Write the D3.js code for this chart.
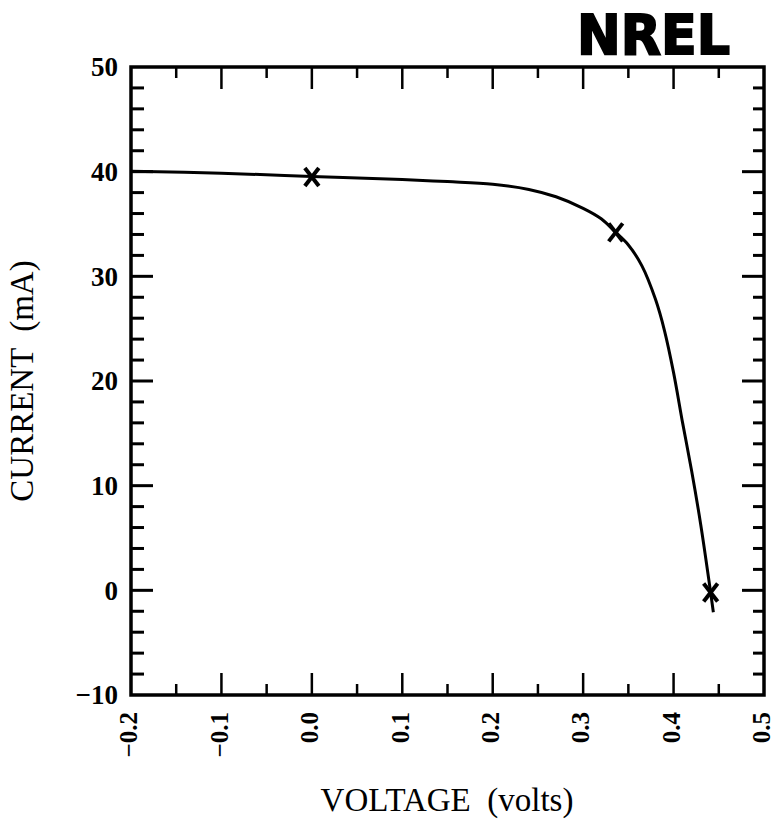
<!DOCTYPE html>
<html><head><meta charset="utf-8">
<script src="https://cdn.jsdelivr.net/npm/d3@7"></script>
<style>body{margin:0;background:#fff}svg{display:block}</style>
</head><body>
<svg id="c" width="777" height="825"></svg>
<script>
// Data
const curveV = [-0.2, -0.1, 0.0, 0.1, 0.15, 0.2, 0.24, 0.27, 0.30, 0.32, 0.336, 0.35, 0.365, 0.38, 0.39, 0.40, 0.41, 0.42, 0.43, 0.44, 0.444];
const curveI = [40.05, 39.85, 39.55, 39.25, 39.05, 38.8, 38.3, 37.6, 36.5, 35.5, 34.2, 33.0, 31.0, 27.8, 24.8, 20.8, 16.0, 11.4, 6.3, 0.4, -2.1];
const markV = [0.0, 0.336, 0.441];
const markI = [39.5, 34.2, -0.2];
const xTicks = [-0.2, -0.1, 0.0, 0.1, 0.2, 0.3, 0.4, 0.5];
const xTickLabels = ["\u22120.2", "\u22120.1", "0.0", "0.1", "0.2", "0.3", "0.4", "0.5"];
const yTicks = [-10, 0, 10, 20, 30, 40, 50];
const yTickLabels = ["\u221210", "0", "10", "20", "30", "40", "50"];

const L = 131, R = 764, T = 67, B = 695;
const svg = d3.select("#c");
const x = d3.scaleLinear().domain([-0.2, 0.5]).range([L, R]);
const y = d3.scaleLinear().domain([-10, 50]).range([B, T]);
const serif = "'Liberation Serif','DejaVu Serif',serif";

// minor/major ticks
const xMinor = d3.range(-0.15, 0.5, 0.1);
const yMinor = d3.range(-10, 50.01, 2).filter(v => Math.abs(v % 10) > 0.01);
const g = svg.append("g").attr("stroke", "#000").attr("fill", "none");
const MAJ = 22, MIN = 11;
xTicks.slice(1, -1).forEach(v => {
  g.append("line").attr("x1", x(v)).attr("x2", x(v)).attr("y1", B).attr("y2", B - MAJ).attr("stroke-width", 2.5);
  g.append("line").attr("x1", x(v)).attr("x2", x(v)).attr("y1", T).attr("y2", T + MAJ).attr("stroke-width", 2.5);
});
xMinor.forEach(v => {
  g.append("line").attr("x1", x(v)).attr("x2", x(v)).attr("y1", B).attr("y2", B - MIN).attr("stroke-width", 2.5);
  g.append("line").attr("x1", x(v)).attr("x2", x(v)).attr("y1", T).attr("y2", T + MIN).attr("stroke-width", 2.5);
});
yTicks.slice(1, -1).forEach(v => {
  g.append("line").attr("x1", L).attr("x2", L + MAJ).attr("y1", y(v)).attr("y2", y(v)).attr("stroke-width", 3);
  g.append("line").attr("x1", R).attr("x2", R - MAJ).attr("y1", y(v)).attr("y2", y(v)).attr("stroke-width", 3);
});
yMinor.forEach(v => {
  g.append("line").attr("x1", L).attr("x2", L + 13).attr("y1", y(v)).attr("y2", y(v)).attr("stroke-width", 3);
  g.append("line").attr("x1", R).attr("x2", R - 11).attr("y1", y(v)).attr("y2", y(v)).attr("stroke-width", 3);
});
// frame
svg.append("rect").attr("x", L).attr("y", T).attr("width", R - L).attr("height", B - T)
  .attr("fill", "none").attr("stroke", "#000").attr("stroke-width", 3.5);

// tick labels
svg.append("g").selectAll("text").data(yTicks).join("text")
  .attr("x", 118).attr("y", d => y(d)).attr("dy", "0.35em")
  .attr("text-anchor", "end").attr("font-family", serif).attr("font-weight", "bold")
  .attr("font-size", 27).text((d, i) => yTickLabels[i]);
svg.append("g").selectAll("text").data(xTicks).join("text")
  .attr("transform", d => `translate(${x(d)},712) rotate(-90)`).attr("dy", "0.25em")
  .attr("text-anchor", "end").attr("font-family", serif).attr("font-weight", "bold")
  .attr("font-size", 25).text((d, i) => xTickLabels[i]);

// axis titles
svg.append("text").attr("x", 447).attr("y", 811).attr("text-anchor", "middle")
  .attr("font-family", serif).attr("font-size", 33).attr("xml:space", "preserve").text("VOLTAGE  (volts)");
svg.append("text").attr("transform", "translate(33,381) rotate(-90)").attr("text-anchor", "middle")
  .attr("font-family", serif).attr("font-size", 33).attr("xml:space", "preserve").text("CURRENT  (mA)");

// curve
const pts = curveV.map((v, i) => [v, curveI[i]]);
svg.append("path").datum(pts)
  .attr("d", d3.line().x(d => x(d[0])).y(d => y(d[1])).curve(d3.curveCatmullRom.alpha(0.5)))
  .attr("fill", "none").attr("stroke", "#000").attr("stroke-width", 3);

// markers
const s = 7;
const mk = svg.append("g").attr("stroke", "#000").attr("stroke-width", 4).attr("stroke-linecap", "butt");
markV.forEach((v, i) => {
  const cx = x(v), cy = y(markI[i]);
  mk.append("line").attr("x1", cx - s).attr("y1", cy - 9).attr("x2", cx + s).attr("y2", cy + 9);
  mk.append("line").attr("x1", cx + s).attr("y1", cy - 9).attr("x2", cx - s).attr("y2", cy + 9);
});

// NREL logo
svg.append("text").attr("x", 577).attr("y", 54).attr("font-family", "'DejaVu Sans','Liberation Sans',sans-serif")
  .attr("font-weight", "bold").attr("font-size", 56).attr("textLength", 153).attr("lengthAdjust", "spacingAndGlyphs")
  .attr("stroke", "#000").attr("stroke-width", 2).text("NREL");
</script>
</body></html>
